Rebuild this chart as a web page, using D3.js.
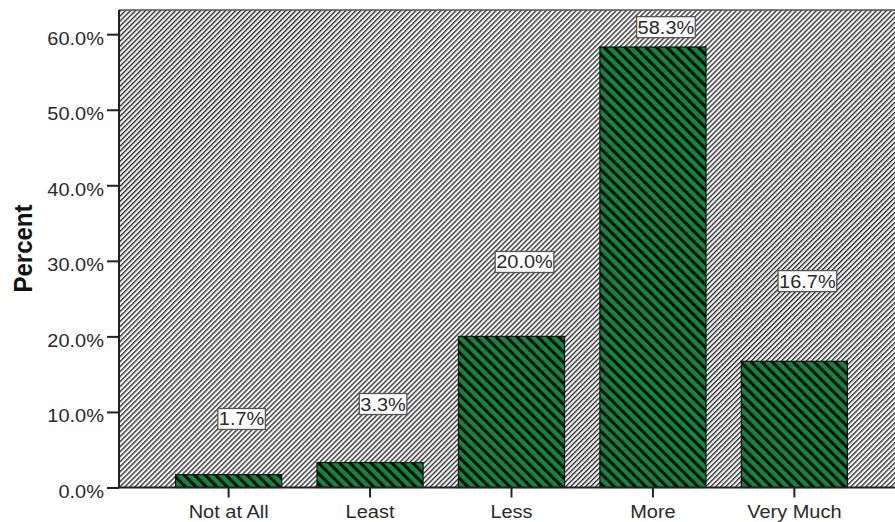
<!DOCTYPE html>
<html>
<head>
<meta charset="utf-8">
<script src="https://cdn.jsdelivr.net/npm/d3@7"></script>
<style>
  html, body { margin: 0; padding: 0; background: #fff; }
  svg { display: block; }
  text { font-family: "Liberation Sans", Arial, sans-serif; }
</style>
</head>
<body>
<svg id="chart" width="895" height="522"></svg>
<script>
// ---- data ----
const categories = ["Not at All", "Least", "Less", "More", "Very Much"];
const percents = [1.7, 3.3, 20.0, 58.3, 16.7];
const yTicks = [0, 10, 20, 30, 40, 50, 60];
// value-axis level (in %) at which each data label box is centred
const labelAnchors = [9.07, 11.05, 29.85, 60.93, 27.32];
const yTitle = "Percent";

// ---- layout ----
const W = 895, H = 522;
const plotLeft = 119, plotRight = 904, plotTop = 10, plotBottom = 487.5;
const fontSize = 18.5, stretch = 1.08;

const svg = d3.select("#chart");

// patterns
const defs = svg.append("defs");
const bgP = 3.54;
const bg = defs.append("pattern")
  .attr("id", "bgHatch").attr("patternUnits", "userSpaceOnUse")
  .attr("width", bgP).attr("height", 10)
  .attr("patternTransform", "rotate(45)");
bg.append("rect").attr("width", bgP).attr("height", 10).attr("fill", "#f4f4f4");
bg.append("rect").attr("x", 0).attr("width", 1.3).attr("height", 10).attr("fill", "#2a2a2a");

const barP = 7.4;
const barPat = defs.append("pattern")
  .attr("id", "barHatch").attr("patternUnits", "userSpaceOnUse")
  .attr("width", barP).attr("height", 10)
  .attr("patternTransform", "rotate(-45)");
barPat.append("rect").attr("width", barP).attr("height", 10).attr("fill", "#0b8a3e");
barPat.append("rect").attr("x", 0).attr("width", 3.0).attr("height", 10).attr("fill", "#050505");

// scales
const x = d3.scaleBand().domain(categories).range([plotLeft, plotRight])
  .paddingInner(0.25).paddingOuter(0.4);
const y = d3.scaleLinear().domain([0, 63.2]).range([plotBottom, plotTop]);

// plot background
svg.append("rect")
  .attr("x", plotLeft).attr("y", plotTop)
  .attr("width", plotRight - plotLeft).attr("height", plotBottom - plotTop)
  .attr("fill", "url(#bgHatch)");
svg.append("line")
  .attr("x1", plotLeft).attr("x2", plotRight).attr("y1", plotTop).attr("y2", plotTop)
  .attr("stroke", "#555").attr("stroke-width", 1.5);

// bars
svg.append("g").selectAll("rect")
  .data(categories)
  .join("rect")
  .attr("x", d => x(d))
  .attr("width", x.bandwidth())
  .attr("y", (d, i) => y(percents[i]))
  .attr("height", (d, i) => y(0) - y(percents[i]))
  .attr("fill", "url(#barHatch)")
  .attr("stroke", "#111").attr("stroke-width", 1.2);

// y axis
const yAxis = svg.append("g")
  .attr("transform", `translate(${plotLeft},0)`)
  .call(d3.axisLeft(y).tickValues(yTicks).tickFormat(d => d.toFixed(1) + "%").tickSize(12).tickSizeOuter(0));
yAxis.select(".domain").attr("stroke", "#222").attr("stroke-width", 2)
  .attr("d", `M0,${plotTop}V${plotBottom}`);
yAxis.selectAll(".tick line").attr("stroke", "#222").attr("stroke-width", 2);
yAxis.selectAll(".tick text")
  .attr("x", 0).attr("dy", null).attr("y", 0)
  .attr("transform", `translate(-15,10) scale(${stretch},1)`)
  .attr("text-anchor", "end")
  .attr("fill", "#2a2a2a")
  .style("font-size", fontSize + "px");

// x axis
const xAxis = svg.append("g")
  .attr("transform", `translate(0,${plotBottom})`)
  .call(d3.axisBottom(x).tickSize(10).tickSizeOuter(0));
xAxis.select(".domain").attr("stroke", "#222").attr("stroke-width", 2)
  .attr("d", `M${plotLeft},0H${plotRight}`);
xAxis.selectAll(".tick line").attr("stroke", "#222").attr("stroke-width", 2);
xAxis.selectAll(".tick text")
  .attr("y", 0).attr("dy", null)
  .attr("transform", `translate(0,30.5) scale(${stretch},1)`)
  .attr("fill", "#2a2a2a")
  .style("font-size", fontSize + "px");

// data labels
const labelG = svg.append("g");
categories.forEach((c, i) => {
  const cx = x(c) + x.bandwidth() / 2 + 13;
  const cy = y(labelAnchors[i]);
  const g = labelG.append("g").attr("transform", `translate(${cx},${cy})`);
  const rect = g.append("rect");
  const t = g.append("text")
    .attr("text-anchor", "middle")
    .attr("transform", `translate(0,6.5) scale(${stretch},1)`)
    .attr("fill", "#2a2a2a")
    .style("font-size", fontSize + "px")
    .text(percents[i].toFixed(1) + "%");
  const w = t.node().getComputedTextLength() * stretch + 2;
  rect.attr("x", -w / 2).attr("y", -10.5).attr("width", w).attr("height", 21)
    .attr("fill", "#fff").attr("stroke", "#555").attr("stroke-width", 1.3);
});

// y title
svg.append("text")
  .attr("transform", `translate(31.5,248.5) scale(${stretch},1) rotate(-90)`)
  .attr("text-anchor", "middle")
  .attr("fill", "#111")
  .style("font-size", "24px").style("font-weight", "bold")
  .text(yTitle);
</script>
</body>
</html>
